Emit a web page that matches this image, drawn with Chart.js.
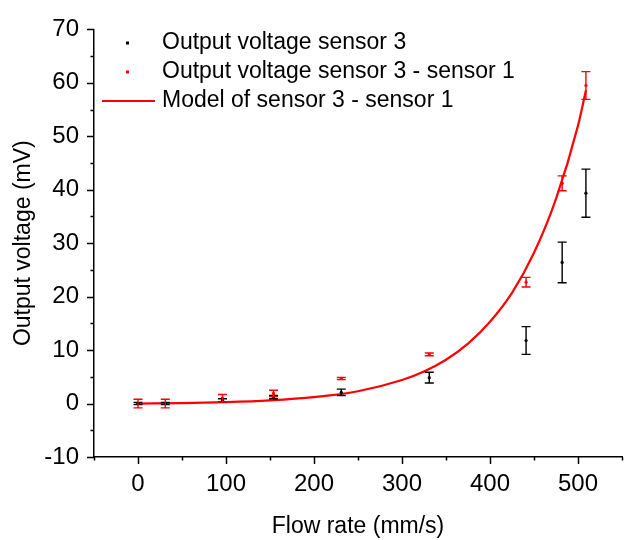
<!DOCTYPE html>
<html>
<head>
<meta charset="utf-8">
<script src="https://cdn.jsdelivr.net/npm/chart.js@4"></script>
<style>
  html, body { margin: 0; padding: 0; background: #fff; }
  #wrap { width: 635px; height: 540px; }
</style>
</head>
<body>
<div id="wrap"><canvas id="flowChart"></canvas></div>
<script>
// measured points (flow rate, mm/s)
const flowRate = [0, 31, 96, 154, 231, 331, 441, 482, 509];

// output voltage sensor 3 (mV) and its error
const sensor3 = [0, 0, 0.6, 1.2, 2.1, 4.85, 11.8, 26.4, 39.35];
const sensor3Err = [0.2, 0.2, 0.3, 0.3, 0.6, 1.0, 2.6, 3.8, 4.5];

// output voltage sensor 3 - sensor 1 (mV) and its error
const diff31 = [0, 0, 1.0, 1.9, 4.7, 9.2, 22.7, 41.2, 59.5];
const diff31Err = [0.8, 0.8, 0.7, 0.6, 0.2, 0.25, 0.9, 1.4, 2.6];

// model curve
const modelX = [0, 50, 100, 150, 200, 250, 300, 325, 350, 375, 400, 425, 450, 475, 500, 509];
const modelY = [0, 0.09, 0.27, 0.6, 1.2, 2.3, 4.4, 6.0, 8.2, 11.2, 15.3, 20.7, 28.2, 38.3, 52.0, 58.6];

const xLabels = [0, 100, 200, 300, 400, 500];
const yLabels = [-10, 0, 10, 20, 30, 40, 50, 60, 70];

const legendItems = [
  { text: 'Output voltage sensor 3', color: '#000', kind: 'dot' },
  { text: 'Output voltage sensor 3 - sensor 1', color: '#ff0000', kind: 'dot' },
  { text: 'Model of sensor 3 - sensor 1', color: '#ff0000', kind: 'line' }
];

const FONT = '"Liberation Sans", Arial, sans-serif';

function toPoints(xs, ys) {
  return xs.map((x, i) => ({ x: x, y: ys[i] }));
}

// error bars for the two measured series
const errorBars = {
  id: 'errorBars',
  afterDatasetsDraw(chart) {
    const ctx = chart.ctx;
    const xs = chart.scales.x, ys = chart.scales.y;
    const sets = [
      { vals: sensor3, err: sensor3Err, color: '#000' },
      { vals: diff31, err: diff31Err, color: '#ff0000' }
    ];
    ctx.save();
    ctx.lineWidth = 1.4;
    sets.forEach(s => {
      ctx.strokeStyle = s.color;
      flowRate.forEach((f, i) => {
        const px = xs.getPixelForValue(f);
        const top = ys.getPixelForValue(s.vals[i] + s.err[i]);
        const bot = ys.getPixelForValue(s.vals[i] - s.err[i]);
        ctx.beginPath();
        ctx.moveTo(px, top); ctx.lineTo(px, bot);
        ctx.moveTo(px - 4.5, top); ctx.lineTo(px + 4.5, top);
        ctx.moveTo(px - 4.5, bot); ctx.lineTo(px + 4.5, bot);
        ctx.stroke();
      });
    });
    ctx.restore();
  }
};

// outward major / minor ticks on the two axes
const axisTicks = {
  id: 'axisTicks',
  afterDraw(chart) {
    const ctx = chart.ctx;
    const xs = chart.scales.x, ys = chart.scales.y;
    const area = chart.chartArea;
    ctx.save();
    ctx.strokeStyle = '#000';
    ctx.lineWidth = 1.5;
    ctx.beginPath();
    xs.ticks.forEach(t => {
      const px = Math.round(xs.getPixelForValue(t.value)) + 0.5;
      const len = t.value % 100 === 0 ? 7 : 3.5;
      ctx.moveTo(px, area.bottom); ctx.lineTo(px, area.bottom + len);
    });
    ys.ticks.forEach(t => {
      const py = Math.round(ys.getPixelForValue(t.value)) + 0.5;
      const len = t.value % 10 === 0 ? 7 : 3.5;
      ctx.moveTo(area.left, py); ctx.lineTo(area.left - len, py);
    });
    ctx.stroke();
    ctx.restore();
  }
};

// legend inside the plot, top left
const innerLegend = {
  id: 'innerLegend',
  afterDraw(chart) {
    const ctx = chart.ctx;
    ctx.save();
    ctx.font = '23px ' + FONT;
    ctx.textBaseline = 'middle';
    legendItems.forEach((it, i) => {
      const y = 43 + i * 29;
      if (it.kind === 'dot') {
        ctx.fillStyle = it.color;
        ctx.fillRect(126, y - 1.5, 3, 3);
      } else {
        ctx.strokeStyle = it.color;
        ctx.lineWidth = 2;
        ctx.beginPath();
        ctx.moveTo(102, y); ctx.lineTo(155, y);
        ctx.stroke();
      }
      ctx.fillStyle = '#000';
      ctx.fillText(it.text, 162, y);
    });
    ctx.restore();
  }
};

new Chart(document.getElementById('flowChart').getContext('2d'), {
  type: 'scatter',
  data: {
    datasets: [
      {
        label: 'Output voltage sensor 3',
        data: toPoints(flowRate, sensor3),
        backgroundColor: '#000',
        borderColor: '#000',
        pointRadius: 1.6,
        pointBorderWidth: 0
      },
      {
        label: 'Output voltage sensor 3 - sensor 1',
        data: toPoints(flowRate, diff31),
        backgroundColor: '#ff0000',
        borderColor: '#ff0000',
        pointRadius: 1.6,
        pointBorderWidth: 0
      },
      {
        label: 'Model of sensor 3 - sensor 1',
        data: toPoints(modelX, modelY),
        showLine: true,
        borderColor: '#ff0000',
        borderWidth: 2.2,
        pointRadius: 0,
        cubicInterpolationMode: 'monotone',
        fill: false
      }
    ]
  },
  options: {
    responsive: true,
    maintainAspectRatio: false,
    animation: false,
    layout: { padding: { left: 0, right: 3, top: 24, bottom: 0 } },
    plugins: {
      legend: { display: false },
      tooltip: { enabled: false }
    },
    scales: {
      x: {
        type: 'linear',
        min: -50,
        max: 550,
        afterFit: s => { s.height = 83; },
        grid: { display: true, drawOnChartArea: false, drawTicks: false },
        border: { display: true, color: '#000', width: 1.5 },
        ticks: {
          stepSize: 50,
          padding: 13,
          color: '#000',
          font: { family: FONT, size: 24 },
          maxRotation: 0,
          autoSkip: false,
          callback: v => xLabels.includes(v) ? String(v) : ''
        },
        title: {
          display: true,
          text: 'Flow rate (mm/s)',
          color: '#000',
          font: { family: FONT, size: 23 },
          padding: { top: 0, bottom: 0 }
        }
      },
      y: {
        type: 'linear',
        min: -10,
        max: 70,
        afterFit: s => { s.width = 94; },
        grid: { display: true, drawOnChartArea: false, drawTicks: false },
        border: { display: true, color: '#000', width: 1.5 },
        ticks: {
          stepSize: 5,
          padding: 15,
          color: '#000',
          font: { family: FONT, size: 24 },
          autoSkip: false,
          callback: v => yLabels.includes(v) ? String(v) : ''
        },
        title: {
          display: true,
          text: 'Output voltage (mV)',
          color: '#000',
          font: { family: FONT, size: 23 },
          padding: { top: 10, bottom: 0 }
        }
      }
    }
  },
  plugins: [errorBars, axisTicks, innerLegend]
});
</script>
</body>
</html>
